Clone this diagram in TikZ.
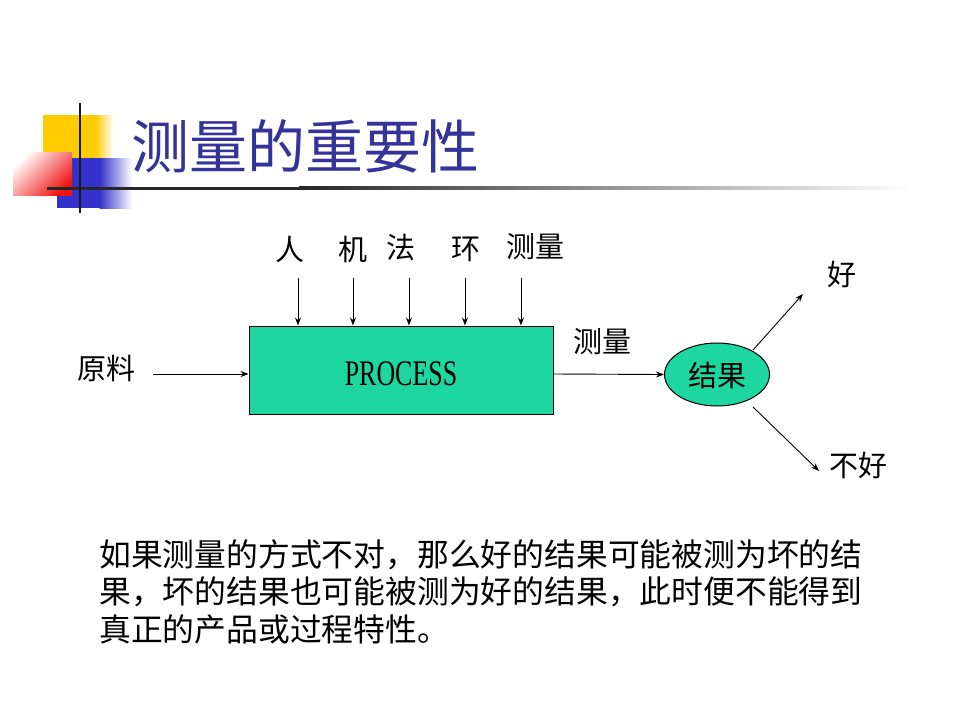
\documentclass[tikz,border=0pt]{standalone}
\usepackage{fontspec}
\setmainfont{Noto Sans CJK SC}
\newfontfamily\condserif[FakeStretch=0.72]{Liberation Serif}
\usetikzlibrary{shapes.geometric,arrows.meta}
\definecolor{titleblue}{RGB}{51,51,153}
\definecolor{procgreen}{RGB}{30,214,160}
\definecolor{decoyellow}{RGB}{255,204,0}
\definecolor{decoblue}{RGB}{51,51,204}
\definecolor{decored}{RGB}{240,20,20}
\tikzset{
  lbl/.style={inner sep=0pt, font=\fontsize{29}{32}\selectfont},
  para/.style={inner sep=0pt, anchor=west, font=\fontsize{31.8}{38}\selectfont},
  arr/.style={-{Stealth[length=8pt,width=6pt]}, line width=0.9pt},
}
\begin{document}
\begin{tikzpicture}[x=1pt,y=-1pt]
\useasboundingbox (0,0) rectangle (960,720);
\fill[white] (0,0) rectangle (960,720);
% decoration
\fill[decoyellow] (43,115) rectangle (96,160);
\shade[left color=decoyellow, right color=white] (95.5,115) rectangle (113,160);
\fill[decoblue] (57,158) rectangle (100,208);
\shade[left color=decoblue, right color=white] (99.5,158) rectangle (132,208);
\shade[left color=white, right color=decored, shading angle=45] (13,152) rectangle (72,195);
\fill[black!85] (47,186.5) rectangle (300,189.5);
\shade[left color=black!85, right color=white] (299,186.5) rectangle (910,189.5);
\draw[line width=2.5pt, black!90] (80,103) -- (80,213);
% title
\node[anchor=west, inner sep=0pt, text=titleblue, font=\fontsize{58}{60}\selectfont] (title) at (131,146) {测量的重要性};
% diagram
\node[draw=black, line width=1pt, fill=procgreen, minimum width=304pt, minimum height=88pt, inner sep=0pt] (proc) at (401,370) {};
\node[inner sep=0pt, font=\condserif\fontsize{36}{38}\selectfont] (ptext) at (401,374) {PROCESS};
\node[lbl] (ren) at (290,249) {人};
\node[lbl] (ji) at (353,249) {机};
\node[lbl] (fa) at (401,247) {法};
\node[lbl] (huan) at (466,249) {环};
\node[lbl] (cl) at (535,247) {测量};
\coordinate (a1) at (298,278);
\coordinate (a2) at (353,278);
\coordinate (a3) at (409,278);
\coordinate (a4) at (465,278);
\coordinate (a5) at (521,278);
\foreach \i in {1,...,5} \draw[arr] (a\i) -- (a\i |- proc.north);
\node[lbl] (yl) at (106,368) {原料};
\coordinate (src) at (153,374);
\draw[arr] (src) -- (src -| proc.west);
\node[draw=black, line width=1pt, fill=procgreen, ellipse, minimum width=105pt, minimum height=63pt, inner sep=0pt] (res) at (717,374.5) {};
\node[lbl] (restext) at (717,375) {结果};
\coordinate (out) at (553,374);
\draw[arr] (out) -- (res.west);
\node[lbl] (clout) at (602,342) {测量};
\coordinate (g0) at (753,350);
\coordinate (g1) at (803,294);
\coordinate (b0) at (753,407);
\coordinate (b1) at (819,471);
\draw[arr] (g0) -- (g1);
\draw[arr] (b0) -- (b1);
\node[lbl] (good) at (842,274) {好};
\node[lbl] (bad) at (858,465) {不好};
% paragraph
\node[para] (p1) at (99,555) {如果测量的方式不对，那么好的结果可能被测为坏的结};
\node[para] (p2) at (99,592) {果，坏的结果也可能被测为好的结果，此时便不能得到};
\node[para] (p3) at (99,629) {真正的产品或过程特性。};
\end{tikzpicture}
\end{document}
